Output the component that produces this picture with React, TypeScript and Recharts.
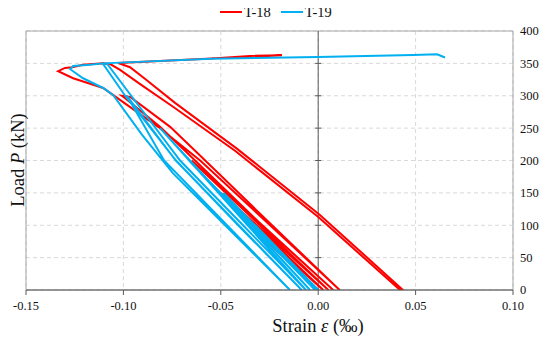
import {
  LineChart,
  Line,
  XAxis,
  YAxis,
  CartesianGrid,
  ReferenceLine,
  ReferenceArea,
} from "recharts";

const xTicks = [-0.15, -0.1, -0.05, 0, 0.05, 0.1];
const yTicks = [0, 50, 100, 150, 200, 250, 300, 350, 400];

// T-18: cyclic loading (strain in ‰, load in kN)
const t18Strain = [
  0, -0.035, 0.0026, -0.05, 0.0052, -0.065, 0.0077, -0.0288, -0.0632, -0.0812,
  -0.0991, -0.1008, -0.0965, -0.076, -0.058, -0.0237, 0.011, -0.0247, -0.0606,
  -0.0822, -0.1052, -0.1104, -0.1258, -0.1335, -0.13, -0.1263, -0.1207, -0.1104,
  -0.1068, -0.1017, -0.0914, -0.0745, -0.0427, -0.0001, 0.042, 0.0435, 0.0009,
  -0.0416, -0.0735, -0.0888, -0.0966, -0.1027, -0.0546, -0.035, -0.0186,
  -0.035, -0.0545,
];
const t18Load = [
  0, 100, 0, 150, 0, 200, 0, 100, 200, 252, 296, 300, 298, 252, 200, 100, 0, 100,
  200, 252, 301, 312, 327, 338, 343, 344, 348, 350, 349, 340, 318, 283, 215, 113,
  0, 0, 116, 218, 289, 326, 344, 350.5, 357.5, 361.5, 362.5, 359.8, 357.8,
];

// T-19
const t19Strain = [
  0, -0.0323, -0.0002, -0.0486, -0.0016, -0.0663, -0.0042, -0.0812, -0.0063,
  -0.0386, -0.0709, -0.096, -0.1083, -0.1104, -0.0991, -0.073, -0.0411, -0.0085,
  -0.0408, -0.0731, -0.0982, -0.0791, -0.0468, -0.0145, -0.0478, -0.0745,
  -0.0905, -0.1052, -0.1104, -0.1207, -0.1273, -0.1258, -0.1171, -0.1104, -0.055,
  0, 0.0487, 0.061, 0.0651,
];
const t19Load = [
  0, 100, 0, 150, 0, 200, 0, 250, 0, 100, 200, 300, 349, 349, 300, 200, 100, 0,
  100, 200, 300, 200, 100, 0, 100, 180, 240, 301, 312, 327, 341, 346, 348, 350,
  357, 360, 363, 364, 359,
];

const toPoints = (xs: number[], ys: number[]) =>
  xs.map((x, i) => ({ x, y: ys[i] }));

const t18Data = toPoints(t18Strain, t18Load);
const t19Data = toPoints(t19Strain, t19Load);

const RED = "#ff0000";
const BLUE = "#00b0f0";
const FONT = "Liberation Serif, Times New Roman, serif";

// vertical axis crossing at strain = 0, with cross tick marks
function MidAxis(props: any) {
  const { x1, y1, x2, y2 } = props;
  const top = Math.min(y1, y2);
  const bottom = Math.max(y1, y2);
  const max = yTicks[yTicks.length - 1];
  return (
    <g>
      <line x1={x1} y1={top} x2={x2} y2={bottom} stroke="#595959" strokeWidth={1} />
      {yTicks.slice(1, -1).map((t) => {
        const y = bottom - ((bottom - top) * t) / max;
        return (
          <line key={t} x1={x1 - 3} x2={x1 + 3} y1={y} y2={y} stroke="#595959" strokeWidth={1} />
        );
      })}
    </g>
  );
}

const tickStyle = { fill: "#111", fontSize: 12.5, fontFamily: FONT };

export default function App() {
  return (
    <div
      style={{
        position: "relative",
        width: 550,
        height: 344,
        margin: -8,
        overflow: "hidden",
        fontFamily: FONT,
        background: "#fff",
      }}
    >
      <LineChart
        width={550}
        height={344}
        margin={{ top: 31, right: 0, bottom: 24, left: 26 }}
        style={{ fontFamily: FONT }}
      >
        <CartesianGrid stroke="#d9d9d9" strokeDasharray="4 3" />
        <ReferenceArea
          x1={-0.15}
          x2={0.1}
          y1={0}
          y2={400}
          fill="none"
          stroke="#a6a6a6"
          strokeWidth={1}
        />
        <XAxis
          type="number"
          dataKey="x"
          domain={[-0.15, 0.1]}
          ticks={xTicks}
          interval={0}
          allowDataOverflow
          tickFormatter={(v: number) => v.toFixed(2)}
          height={30}
          tickSize={5}
          tickMargin={6}
          stroke="#595959"
          tick={tickStyle}
        />
        <YAxis
          type="number"
          orientation="right"
          domain={[0, 400]}
          ticks={yTicks}
          interval={0}
          allowDataOverflow
          width={37}
          axisLine={false}
          tickLine={false}
          tickSize={0}
          tickMargin={7}
          tick={tickStyle}
        />
        <ReferenceLine x={0} shape={MidAxis} />
        <Line
          data={t18Data}
          dataKey="y"
          type="linear"
          stroke={RED}
          strokeWidth={2}
          dot={false}
          isAnimationActive={false}
        />
        <Line
          data={t19Data}
          dataKey="y"
          type="linear"
          stroke={BLUE}
          strokeWidth={2}
          dot={false}
          isAnimationActive={false}
        />
      </LineChart>

      {/* legend */}
      <div
        style={{
          position: "absolute",
          top: 4,
          left: 220,
          zIndex: 5,
          height: 16,
          display: "flex",
          alignItems: "center",
          fontSize: 14.5,
          lineHeight: "16px",
          color: "#111",
          whiteSpace: "nowrap",
        }}
      >
        <span style={{ width: 22, height: 2, background: RED, display: "inline-block" }} />
        <span style={{ marginLeft: 2, marginRight: 10 }}>T-18</span>
        <span style={{ width: 22, height: 2, background: BLUE, display: "inline-block" }} />
        <span style={{ marginLeft: 2 }}>T-19</span>
      </div>

      {/* axis titles */}
      <div
        style={{
          position: "absolute",
          left: 318,
          top: 326,
          transform: "translate(-50%, -50%)",
          fontSize: 18.5,
          lineHeight: "20px",
          color: "#111",
          whiteSpace: "nowrap",
        }}
      >
        Strain <i>ε</i> (‰)
      </div>
      <div
        style={{
          position: "absolute",
          left: 18,
          top: 160,
          transform: "translate(-50%, -50%) rotate(-90deg)",
          fontSize: 18.5,
          lineHeight: "20px",
          color: "#111",
          whiteSpace: "nowrap",
        }}
      >
        Load <i>P</i> (kN)
      </div>
    </div>
  );
}
